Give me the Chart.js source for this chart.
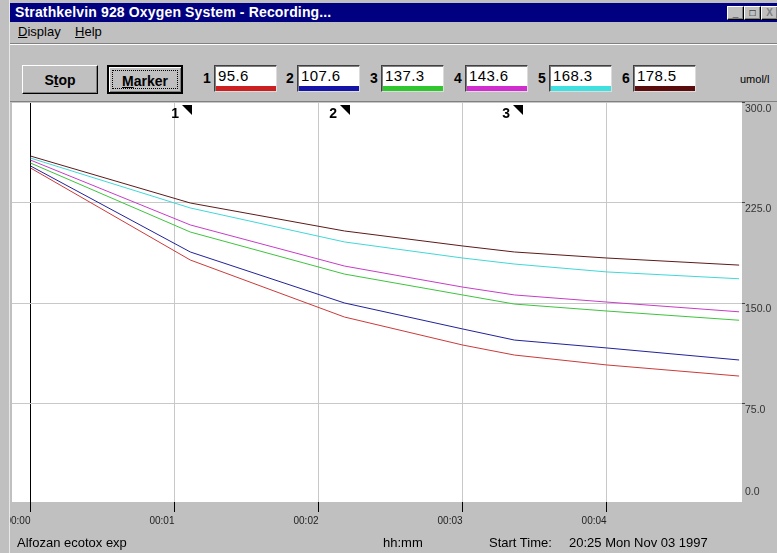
<!DOCTYPE html>
<html>
<head>
<meta charset="utf-8">
<script src="https://cdn.jsdelivr.net/npm/chart.js@4.4.1/dist/chart.umd.min.js"></script>
<style>
  body { margin:0; width:777px; height:553px; overflow:hidden; background:#c0c0c0; position:relative;
         font-family: Arial, "Liberation Sans", sans-serif; color:#000; }
  .abs { position:absolute; }
  #title { left:10px; top:3px; width:767px; height:19px; background:#000080; }
  #title span { position:absolute; left:5px; top:0; line-height:19px; color:#fff; font-weight:bold; font-size:14px;
                letter-spacing:0.15px; white-space:nowrap; }
  .wbtn { top:6px; width:15px; height:12px; background:#c0c0c0; border:1px solid; border-color:#fff #000 #000 #fff;
          box-shadow: inset -1px -1px #808080; font-size:10px; font-weight:bold; line-height:12px; text-align:center; }
  #menu { left:18px; top:23px; font-size:13px; line-height:18px; white-space:nowrap; }
  #menu u { text-decoration:underline; }
  #sep { left:10px; top:43px; width:767px; height:0; border-top:1px solid #808080; border-bottom:1px solid #fff; }
  .btn { top:65px; height:29px; background:#c0c0c0; font-weight:bold; font-size:14px; line-height:29px; text-align:center;
         box-sizing:border-box; border:1px solid; border-color:#fff #000 #000 #fff; box-shadow: inset -1px -1px #808080; }
  .btn u { text-decoration:underline; }
  #marker { border:2px solid #000; box-shadow: inset 1px 1px #fff, inset -1px -1px #808080; }
  #marker i { position:absolute; left:3px; top:3px; right:3px; bottom:3px; border:1px dotted #000; }
  .chn { top:70px; font-weight:bold; font-size:14px; }
  .box { top:65px; width:63px; height:27px; background:#fff; box-sizing:border-box; border:1px solid;
         border-color:#404040 #dcdcdc #dcdcdc #404040; box-shadow: inset 1px 1px #808080; }
  .box span { position:absolute; left:3px; top:1px; font-size:15px; letter-spacing:0.4px; }
  .box b { position:absolute; left:1px; right:0; bottom:0; height:5px; }
  #unit { left:740px; top:73px; font-size:11px; white-space:nowrap; }
  #plotTop { left:10px; top:101px; width:767px; height:0; border-top:1px solid #808080; }
  #leftFrame { left:0; top:0; width:10px; height:553px; background:#c0c0c0; border-right:1px solid #e8e8e8; box-sizing:border-box; z-index:2; }
  #chartWrap { left:0; top:102px; width:777px; height:451px; }
  .stat { top:535px; font-size:13px; white-space:nowrap; z-index:3; }
</style>
</head>
<body>
<div id="title" class="abs"><span>Strathkelvin 928 Oxygen System - Recording...</span></div>
<div class="abs wbtn" style="left:727px">_</div>
<div class="abs wbtn" style="left:744px">&#9633;</div>
<div class="abs wbtn" style="left:761px;color:#808080">X</div>
<div id="menu" class="abs"><u>D</u>isplay&nbsp;&nbsp;&nbsp; <u>H</u>elp</div>
<div id="sep" class="abs"></div>
<div class="abs btn" style="left:22px;width:76px">S<u>t</u>op</div>
<div id="marker" class="abs btn" style="left:107px;width:76px"><i></i><u>M</u>arker</div>
<div id="readouts"></div>
<div id="unit" class="abs">umol/l</div>
<div id="plotTop" class="abs"></div>
<div id="chartWrap" class="abs"><canvas id="chart" width="777" height="451"></canvas></div>
<div id="leftFrame" class="abs"></div>
<div class="abs stat" style="left:17px">Alfozan ecotox exp</div>
<div class="abs stat" style="left:383px">hh:mm</div>
<div class="abs stat" style="left:489px">Start Time:</div>
<div class="abs stat" style="left:569px">20:25 Mon Nov 03 1997</div>

<script>
// time in minutes since start
const times = [0, 1.11, 2.18, 3.0, 3.36, 4.0, 4.92];

// oxygen, umol/l, one array per probe
const probe1 = [251.1, 182.3, 139.7, 118.8, 111.3, 103.9, 95.6];
const probe2 = [252.6, 188.3, 150.2, 130.8, 122.5, 116.6, 107.6];
const probe3 = [254.8, 203.2, 171.8, 156.2, 149.4, 144.2, 137.3];
const probe4 = [257.0, 208.5, 177.8, 162.1, 156.2, 150.9, 143.6];
const probe5 = [258.5, 221.2, 195.8, 183.8, 179.3, 173.4, 168.3];
const probe6 = [260.0, 224.9, 204.0, 192.8, 188.3, 183.8, 178.5];

const probes = [probe1, probe2, probe3, probe4, probe5, probe6];
const lineColors = ['#cc3a3a', '#22229a', '#3ec43e', '#c83cc8', '#40d8d8', '#5e1a1a'];
const barColors = ['#cc2020', '#1414a8', '#2ec82e', '#d02cd0', '#3ee0e0', '#5a0c0c'];

const markerTimes = [1.12, 2.22, 3.42];

const xTicks = [0, 1, 2, 3, 4];
const xTickLabels = ['00:00', '00:01', '00:02', '00:03', '00:04'];
const yTicks = [0, 75, 150, 225, 300];

// readout boxes along the toolbar
const boxLeft = [214, 297, 381, 465, 549, 633];
let html = '';
probes.forEach((p, i) => {
  html += '<div class="abs chn" style="left:' + (boxLeft[i] - 11) + 'px">' + (i + 1) + '</div>';
  html += '<div class="abs box" style="left:' + boxLeft[i] + 'px"><span>' + p[p.length - 1].toFixed(1) +
          '</span><b style="background:' + barColors[i] + '"></b></div>';
});
document.getElementById('readouts').innerHTML = html;

const panelBg = {
  id: 'panelBg',
  beforeDraw(chart) {
    const {ctx, chartArea: a} = chart;
    ctx.save();
    ctx.fillStyle = '#fff';
    ctx.fillRect(a.left, a.top, a.right - a.left, a.bottom - a.top);
    ctx.restore();
  }
};

const rightLabels = {
  id: 'rightLabels',
  afterDraw(chart) {
    const {ctx, chartArea: a, scales: {y}} = chart;
    ctx.save();
    ctx.font = '10.5px Arial';
    ctx.fillStyle = '#333';
    ctx.textAlign = 'left';
    ctx.textBaseline = 'top';
    yTicks.forEach(v => {
      let py = y.getPixelForValue(v);
      if (py > a.bottom - 14) py = a.bottom - 16;
      ctx.fillText(v.toFixed(1), a.right + 3, py + 1);
    });
    ctx.restore();
  }
};

const markerFlags = {
  id: 'markerFlags',
  afterDatasetsDraw(chart) {
    const {ctx, scales: {x}} = chart;
    ctx.save();
    ctx.fillStyle = '#000';
    ctx.font = 'bold 14px Arial';
    ctx.textAlign = 'right';
    ctx.textBaseline = 'middle';
    markerTimes.forEach((t, i) => {
      const px = Math.round(x.getPixelForValue(t));
      ctx.beginPath();
      ctx.moveTo(px - 10, 3);
      ctx.lineTo(px, 3);
      ctx.lineTo(px, 13);
      ctx.closePath();
      ctx.fill();
      ctx.fillText(String(i + 1), px - 13, 12);
    });
    ctx.restore();
  }
};

new Chart(document.getElementById('chart'), {
  type: 'line',
  data: {
    datasets: probes.map((p, i) => ({
      label: String(i + 1),
      data: times.map((t, j) => ({x: t, y: p[j]})),
      borderColor: lineColors[i],
      borderWidth: 1,
      pointRadius: 0,
      tension: 0,
      fill: false
    }))
  },
  options: {
    responsive: false,
    animation: false,
    devicePixelRatio: 1,
    layout: {padding: {left: 12, top: 0, right: 0, bottom: 0}},
    plugins: {legend: {display: false}, tooltip: {enabled: false}},
    scales: {
      x: {
        type: 'linear',
        min: -0.128,
        max: 4.94,
        afterBuildTicks: s => { s.ticks = xTicks.map(v => ({value: v})); },
        afterFit: s => { s.height = 51; s.paddingLeft = 0; s.paddingRight = 0; },
        border: {display: false},
        grid: {
          color: c => (c.tick && c.tick.value === 0) ? '#000' : '#c8c8c8',
          tickColor: '#000',
          tickLength: 10,
          lineWidth: 1
        },
        ticks: {
          autoSkip: false,
          maxRotation: 0,
          align: 'end',
          padding: 3,
          color: '#222',
          font: {family: 'Arial', size: 10},
          callback: (v) => xTickLabels[xTicks.indexOf(v)]
        }
      },
      y: {
        type: 'linear',
        position: 'right',
        min: 1.49,
        max: 300.37,
        afterBuildTicks: s => { s.ticks = yTicks.filter(v => v >= s.min && v <= s.max).map(v => ({value: v})); },
        afterFit: s => { s.width = 35; s.paddingTop = 0; s.paddingBottom = 0; },
        border: {display: false},
        grid: {color: '#c8c8c8', tickColor: '#444', tickLength: 3, lineWidth: 1},
        ticks: {display: false}
      }
    }
  },
  plugins: [panelBg, rightLabels, markerFlags]
});
</script>
</body>
</html>
